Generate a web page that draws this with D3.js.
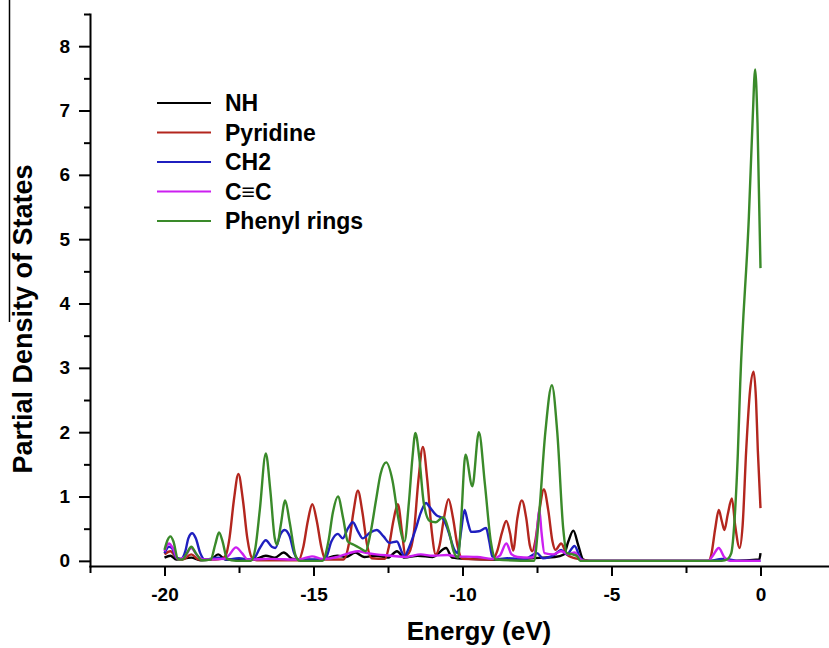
<!DOCTYPE html>
<html>
<head>
<meta charset="utf-8">
<script src="https://cdn.jsdelivr.net/npm/d3@7"></script>
<style>
  body { margin: 0; background: #fff; }
  svg { font-family: "Liberation Sans", Arial, sans-serif; font-weight: bold; }
  .axis path, .axis line { stroke: #000; stroke-width: 2; }
  .axis text { font-size: 19px; font-weight: bold; fill: #000; }
  .series { fill: none; stroke-width: 2.4; stroke-linejoin: round; }
</style>
</head>
<body>
<svg width="829" height="648"></svg>
<script>
// energy (eV), pdos
var nh = [
  [-20.0, 0.05], [-19.8, 0.08], [-19.6, 0.02], [-19.1, 0.05], [-18.8, 0.01], [-18.45, 0.02],
  [-18.2, 0.1], [-17.95, 0.02], [-17.5, 0.03], [-17.0, 0.02], [-16.6, 0.08], [-16.3, 0.05],
  [-16.0, 0.13], [-15.7, 0.03], [-14.8, 0.01], [-14.2, 0.08], [-13.9, 0.06], [-13.6, 0.13],
  [-13.3, 0.06], [-12.9, 0.08], [-12.5, 0.05], [-12.2, 0.15], [-11.95, 0.05], [-11.5, 0.08],
  [-11.0, 0.06], [-10.55, 0.2], [-10.35, 0.05], [-9.8, 0.03], [-9.0, 0.02], [-8.0, 0.03],
  [-7.3, 0.05], [-6.9, 0.06], [-6.6, 0.1], [-6.45, 0.3], [-6.28, 0.47], [-6.12, 0.25],
  [-5.95, 0.02], [-5.8, 0.0], [-1.5, 0.0], [-1.2, 0.03], [-0.9, 0.0], [-0.04, 0.02], [0.0, 0.12]
];

var pyridine = [
  [-20.0, 0.1], [-19.8, 0.15], [-19.6, 0.05], [-19.4, 0.02], [-19.1, 0.1], [-18.85, 0.02],
  [-18.3, 0.02], [-18.1, 0.03], [-17.95, 0.08], [-17.82, 0.35], [-17.67, 0.95], [-17.52, 1.35],
  [-17.37, 0.95], [-17.22, 0.35], [-17.08, 0.06], [-16.9, 0.01], [-15.5, 0.01], [-15.34, 0.22],
  [-15.19, 0.62], [-15.04, 0.88], [-14.89, 0.62], [-14.74, 0.22], [-14.6, 0.02], [-14.0, 0.02],
  [-13.81, 0.27], [-13.66, 0.76], [-13.51, 1.09], [-13.36, 0.76], [-13.21, 0.27], [-13.05, 0.04],
  [-12.6, 0.03], [-12.47, 0.22], [-12.32, 0.62], [-12.17, 0.88], [-12.03, 0.45], [-11.92, 0.08],
  [-11.8, 0.12], [-11.63, 0.45], [-11.48, 1.25], [-11.33, 1.77], [-11.18, 1.25], [-11.03, 0.45],
  [-10.9, 0.1], [-10.77, 0.24], [-10.62, 0.67], [-10.47, 0.96], [-10.32, 0.67], [-10.17, 0.24],
  [-10.0, 0.03], [-9.0, 0.02], [-8.83, 0.16], [-8.68, 0.43], [-8.53, 0.62], [-8.4, 0.42],
  [-8.3, 0.16], [-8.16, 0.66], [-8.01, 0.94], [-7.86, 0.66], [-7.74, 0.24], [-7.66, 0.15],
  [-7.56, 0.3], [-7.42, 0.78], [-7.27, 1.11], [-7.12, 0.78], [-6.98, 0.3], [-6.88, 0.17],
  [-6.69, 0.27], [-6.5, 0.1], [-6.3, 0.05], [-6.0, 0.02], [-5.75, 0.0], [-1.75, 0.0],
  [-1.65, 0.1], [-1.52, 0.5], [-1.4, 0.79], [-1.3, 0.62], [-1.21, 0.48], [-1.1, 0.72],
  [-0.96, 0.97], [-0.85, 0.55], [-0.7, 0.2], [-0.6, 0.55], [-0.48, 1.72], [-0.35, 2.65],
  [-0.23, 2.94], [-0.15, 2.5], [-0.09, 1.72], [0.0, 0.82]
];

var ch2 = [
  [-20.0, 0.12], [-19.85, 0.22], [-19.75, 0.2], [-19.6, 0.05], [-19.45, 0.03], [-19.3, 0.15],
  [-19.2, 0.35], [-19.07, 0.43], [-18.95, 0.35], [-18.8, 0.12], [-18.65, 0.02], [-18.2, 0.05],
  [-17.9, 0.02], [-17.5, 0.04], [-17.2, 0.02], [-17.0, 0.04], [-16.8, 0.2], [-16.6, 0.32],
  [-16.4, 0.22], [-16.28, 0.2], [-16.1, 0.42], [-15.97, 0.48], [-15.8, 0.38], [-15.65, 0.12],
  [-15.5, 0.02], [-14.7, 0.02], [-14.58, 0.05], [-14.4, 0.3], [-14.18, 0.42], [-14.02, 0.35],
  [-13.85, 0.5], [-13.68, 0.6], [-13.5, 0.45], [-13.35, 0.35], [-13.1, 0.44], [-12.88, 0.48],
  [-12.65, 0.38], [-12.45, 0.28], [-12.2, 0.3], [-12.05, 0.15], [-11.95, 0.07], [-11.8, 0.2],
  [-11.58, 0.48], [-11.4, 0.75], [-11.22, 0.9], [-11.11, 0.84], [-10.88, 0.71], [-10.66, 0.66],
  [-10.49, 0.48], [-10.27, 0.17], [-10.16, 0.12], [-10.05, 0.45], [-9.93, 0.79], [-9.82, 0.6],
  [-9.71, 0.45], [-9.45, 0.46], [-9.21, 0.51], [-9.1, 0.3], [-9.0, 0.07], [-8.8, 0.03],
  [-8.5, 0.04], [-7.9, 0.03], [-7.5, 0.12], [-7.3, 0.04], [-6.9, 0.1], [-6.69, 0.17],
  [-6.5, 0.1], [-6.24, 0.23], [-6.05, 0.05], [-5.9, 0.0], [-1.7, 0.0], [-1.3, 0.03],
  [-1.0, 0.02], [-0.8, 0.0], [0.0, 0.0]
];

var ccTriple = [
  [-20.0, 0.15], [-19.85, 0.27], [-19.72, 0.2], [-19.55, 0.03], [-19.35, 0.05], [-19.1, 0.2],
  [-18.9, 0.08], [-18.7, 0.02], [-18.0, 0.03], [-17.85, 0.08], [-17.6, 0.21], [-17.4, 0.12],
  [-17.2, 0.02], [-16.5, 0.03], [-15.5, 0.02], [-15.05, 0.07], [-14.7, 0.03], [-14.2, 0.06],
  [-13.8, 0.12], [-13.5, 0.15], [-13.2, 0.12], [-12.9, 0.1], [-12.4, 0.08], [-11.9, 0.06],
  [-11.4, 0.1], [-11.0, 0.08], [-10.5, 0.09], [-10.2, 0.07], [-9.5, 0.06], [-9.0, 0.03],
  [-8.75, 0.08], [-8.53, 0.27], [-8.35, 0.1], [-8.15, 0.06], [-7.75, 0.05], [-7.6, 0.06],
  [-7.52, 0.35], [-7.42, 0.79], [-7.35, 0.45], [-7.25, 0.12], [-6.95, 0.1], [-6.69, 0.15],
  [-6.45, 0.1], [-6.24, 0.13], [-6.05, 0.03], [-5.9, 0.0], [-1.75, 0.0], [-1.6, 0.08],
  [-1.4, 0.2], [-1.22, 0.06], [-1.0, 0.0], [0.0, 0.0]
];

var phenyl = [
  [-20.0, 0.17], [-19.9, 0.32], [-19.8, 0.38], [-19.7, 0.3], [-19.55, 0.03], [-19.4, 0.02],
  [-19.25, 0.12], [-19.1, 0.22], [-18.95, 0.12], [-18.75, 0.01], [-18.45, 0.02], [-18.3, 0.25],
  [-18.17, 0.44], [-18.05, 0.3], [-17.9, 0.03], [-17.6, 0.0], [-17.1, 0.0], [-16.95, 0.2],
  [-16.8, 0.8], [-16.6, 1.67], [-16.45, 1.1], [-16.3, 0.35], [-16.22, 0.25], [-16.1, 0.55],
  [-15.95, 0.94], [-15.8, 0.6], [-15.6, 0.08], [-15.45, 0.0], [-14.7, 0.0], [-14.5, 0.3],
  [-14.35, 0.75], [-14.18, 1.0], [-14.0, 0.65], [-13.85, 0.3], [-13.65, 0.25], [-13.45, 0.2],
  [-13.25, 0.15], [-13.1, 0.4], [-12.9, 0.95], [-12.75, 1.35], [-12.56, 1.53], [-12.35, 1.25],
  [-12.15, 0.65], [-11.95, 0.3], [-11.8, 0.9], [-11.68, 1.6], [-11.58, 1.99], [-11.45, 1.6],
  [-11.3, 0.9], [-11.1, 0.62], [-10.9, 0.6], [-10.65, 0.68], [-10.45, 0.45], [-10.3, 0.15],
  [-10.15, 0.05], [-10.05, 0.6], [-9.9, 1.65], [-9.67, 1.16], [-9.45, 2.0], [-9.25, 1.2],
  [-9.05, 0.3], [-8.87, 0.02], [-7.6, 0.0], [-7.45, 0.6], [-7.22, 2.0], [-7.0, 2.73],
  [-6.82, 2.0], [-6.62, 0.5], [-6.5, 0.12], [-6.3, 0.1], [-6.15, 0.07], [-6.05, 0.0],
  [-1.3, 0.0], [-1.1, 0.03], [-0.98, 0.12], [-0.87, 0.64], [-0.76, 1.67], [-0.68, 2.76],
  [-0.39, 5.35], [-0.26, 6.9], [-0.18, 7.64], [-0.1, 6.8], [0.0, 4.55]
];

var seriesNames = ["NH", "Pyridine", "CH2", "C\u2261C", "Phenyl rings"];
var seriesData = [nh, pyridine, ch2, ccTriple, phenyl];
var seriesColors = ["#000000", "#b3261e", "#1f1fbf", "#cc1ff0", "#3a8a2a"];

var xMajor = [-20, -15, -10, -5, 0];
var xMinor = [-22.5, -17.5, -12.5, -7.5, -2.5, 2.5];
var yMajor = [0, 1, 2, 3, 4, 5, 6, 7, 8];
var yMinor = [0.5, 1.5, 2.5, 3.5, 4.5, 5.5, 6.5, 7.5, 8.5];

var svg = d3.select("svg");

var x = d3.scaleLinear()
    .domain([-22.5, 2.5])
    .range([90, 835]);

var y = d3.scaleLinear()
    .domain([-0.08, 8.5])
    .range([566, 14]);

// stray rule left of the y title in the source figure
svg.append("line")
    .attr("x1", 9.5).attr("x2", 9.5)
    .attr("y1", 0).attr("y2", 322)
    .attr("stroke", "#000")
    .attr("stroke-width", 1.5);

var line = d3.line()
    .curve(d3.curveMonotoneX)
    .x(function(d) { return x(d[0]); })
    .y(function(d) { return y(d[1]); });

svg.selectAll(".series")
  .data(seriesData)
  .enter().append("path")
    .attr("class", "series")
    .attr("stroke", function(d, i) { return seriesColors[i]; })
    .attr("d", line);

// x axis
svg.append("g")
    .attr("class", "axis")
    .attr("transform", "translate(0," + y.range()[0] + ")")
    .call(d3.axisBottom(x).tickValues(xMinor).tickSize(7).tickFormat(""))
    .call(function(g) { g.select(".domain").remove(); });

svg.append("g")
    .attr("class", "axis")
    .attr("transform", "translate(0," + y.range()[0] + ")")
    .call(d3.axisBottom(x).tickValues(xMajor).tickSize(10).tickSizeOuter(0).tickPadding(12)
        .tickFormat(function(d) { return String(d); }));

// y axis
svg.append("g")
    .attr("class", "axis")
    .attr("transform", "translate(" + x.range()[0] + ",0)")
    .call(d3.axisLeft(y).tickValues(yMinor).tickSize(6).tickFormat(""))
    .call(function(g) { g.select(".domain").remove(); });

svg.append("g")
    .attr("class", "axis")
    .attr("transform", "translate(" + x.range()[0] + ",0)")
    .call(d3.axisLeft(y).tickValues(yMajor).tickSize(11).tickSizeOuter(0).tickPadding(9)
        .tickFormat(function(d) { return String(d); }));

svg.selectAll(".axis .domain").attr("stroke-linecap", "square");

// titles
svg.append("text")
    .attr("x", 479)
    .attr("y", 640)
    .attr("text-anchor", "middle")
    .attr("font-size", 26)
    .text("Energy (eV)");

svg.append("text")
    .attr("transform", "translate(32,319) rotate(-90)")
    .attr("text-anchor", "middle")
    .attr("font-size", 27)
    .text("Partial Density of States");

// legend
var legend = svg.append("g")
    .attr("transform", "translate(157,103)");

var rows = legend.selectAll(".row")
  .data(seriesNames)
  .enter().append("g")
    .attr("class", "row")
    .attr("transform", function(d, i) { return "translate(0," + (i * 29.5) + ")"; });

rows.append("line")
    .attr("x1", 0).attr("x2", 54)
    .attr("stroke-width", 2)
    .attr("stroke", function(d, i) { return seriesColors[i]; });

rows.append("text")
    .attr("x", 68)
    .attr("dy", "0.36em")
    .attr("font-size", 23)
    .text(function(d) { return d; });
</script>
</body>
</html>
